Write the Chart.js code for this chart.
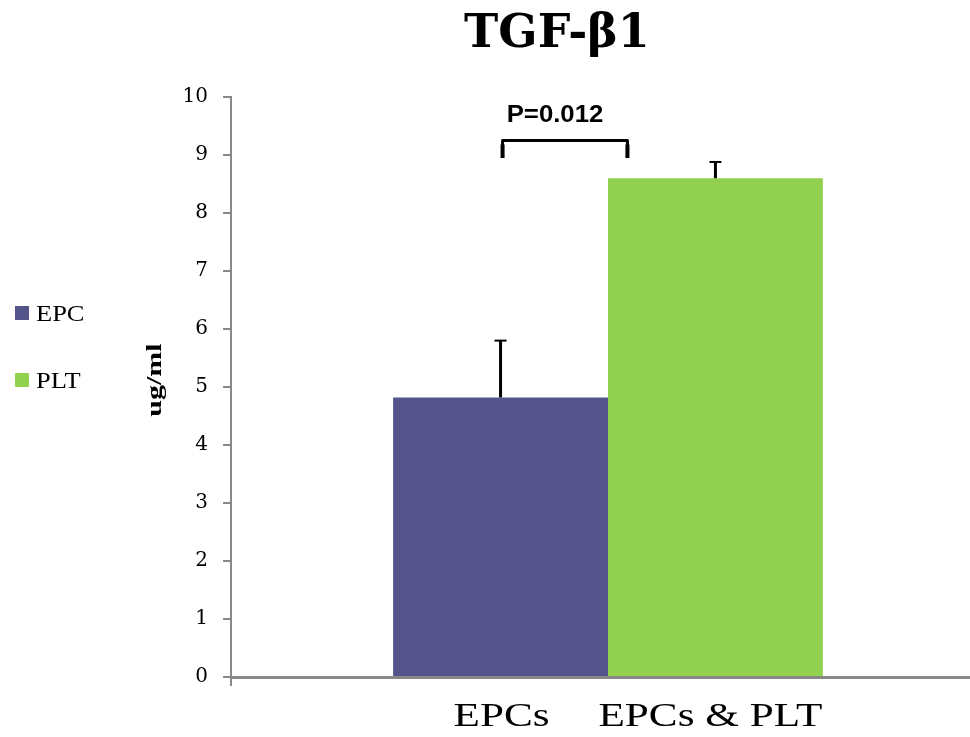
<!DOCTYPE html>
<html>
<head>
<meta charset="utf-8">
<script src="https://cdn.jsdelivr.net/npm/chart.js@4/dist/chart.umd.min.js"></script>
<style>
  html, body { margin: 0; padding: 0; background: #fff; overflow: hidden; width: 970px; height: 737px; }
  #wrap { width: 985px; height: 737px; }
</style>
</head>
<body>
<div id="wrap"><canvas id="c" width="985" height="737"></canvas></div>
<script>
// ---- data ----
const chartTitle = 'TGF-β1';
const yAxisTitle = 'ug/ml';
const categories = ['TGF-β1'];
const seriesNames = ['EPC', 'PLT'];
const barLabels = ['EPCs', 'EPCs & PLT'];
const epcValues = [4.82];
const pltValues = [8.6];
const epcErrors = [0.98];
const pltErrors = [0.28];
const seriesColors = ['#55548A', '#92D050'];
const yTicks = [0, 1, 2, 3, 4, 5, 6, 7, 8, 9, 10];
const pLabel = 'P=0.012';
const bracketTop = 9.25;
const bracketLeg = 8.95;

const errorsBySeries = [epcErrors, pltErrors];

function drawScaledText(ctx, text, x, y, sx, sy, rot) {
  ctx.save();
  ctx.translate(x, y);
  if (rot) ctx.rotate(rot);
  ctx.scale(sx, sy);
  ctx.fillText(text, 0, 0);
  ctx.restore();
}

const decor = {
  id: 'decor',
  afterDatasetsDraw(chart) {
    const ctx = chart.ctx;
    const y = chart.scales.y;
    const bars = chart.data.datasets.map((d, i) => chart.getDatasetMeta(i).data[0]);

    // error bars (upper only)
    ctx.save();
    ctx.strokeStyle = '#000';
    bars.forEach((b, i) => {
      const v = chart.data.datasets[i].data[0];
      const top = y.getPixelForValue(v + errorsBySeries[i][0]);
      ctx.lineWidth = 3;
      ctx.beginPath();
      ctx.moveTo(b.x, b.y);
      ctx.lineTo(b.x, top);
      ctx.stroke();
      ctx.lineWidth = 2;
      ctx.beginPath();
      ctx.moveTo(b.x - 6, top);
      ctx.lineTo(b.x + 6, top);
      ctx.stroke();
    });
    ctx.restore();

    // significance bracket
    const bl = bars[0].x + 2;
    const br = bars[1].x - 88;
    const bt = y.getPixelForValue(bracketTop);
    const bb = y.getPixelForValue(bracketLeg);
    ctx.save();
    ctx.strokeStyle = '#000';
    ctx.lineWidth = 3;
    ctx.lineJoin = 'round';
    ctx.beginPath();
    ctx.moveTo(bl, bb);
    ctx.lineTo(bl, bt);
    ctx.lineTo(br, bt);
    ctx.lineTo(br, bb);
    ctx.stroke();
    ctx.lineWidth = 4;
    ctx.beginPath();
    ctx.moveTo(bl, bb); ctx.lineTo(bl, bt + 4);
    ctx.moveTo(br, bb); ctx.lineTo(br, bt + 4);
    ctx.stroke();
    ctx.fillStyle = '#000';
    ctx.font = 'bold 23px "Liberation Sans", Arial, sans-serif';
    ctx.textAlign = 'center';
    ctx.textBaseline = 'alphabetic';
    drawScaledText(ctx, pLabel, (bl + br) / 2 - 10, 122, 1.12, 1);
    ctx.restore();
  },
  afterDraw(chart) {
    const ctx = chart.ctx;
    const bars = chart.data.datasets.map((d, i) => chart.getDatasetMeta(i).data[0]);
    ctx.save();
    ctx.fillStyle = '#000';

    // title
    ctx.font = 'bold 46px "DejaVu Serif", Georgia, serif';
    ctx.textAlign = 'center';
    ctx.textBaseline = 'alphabetic';
    ctx.fillText(chartTitle, 557, 47);

    // x labels under bars
    ctx.font = '34px "Liberation Serif", "Times New Roman", serif';
    bars.forEach((b, i) => {
      const dx = i === 0 ? 1 : -5;
      drawScaledText(ctx, barLabels[i], b.x + dx, 726, 1.27, 1);
    });

    // y axis title (rotated)
    ctx.font = 'bold 20px "Liberation Serif", "Times New Roman", serif';
    ctx.textBaseline = 'alphabetic';
    drawScaledText(ctx, yAxisTitle, 161, 380, 1.5, 1, -Math.PI / 2);

    // legend
    ctx.textAlign = 'left';
    ctx.font = '23px "Liberation Serif", "Times New Roman", serif';
    const legY = [313, 380];
    chart.data.datasets.forEach((d, i) => {
      ctx.fillStyle = d.backgroundColor;
      ctx.fillRect(15, legY[i] - 7, 14, 14);
      ctx.fillStyle = '#000';
      drawScaledText(ctx, d.label, 36, legY[i] + 8, 1.15, 1);
    });
    ctx.restore();
  }
};

new Chart(document.getElementById('c'), {
  type: 'bar',
  data: {
    labels: categories,
    datasets: [
      { label: seriesNames[0], data: epcValues, backgroundColor: seriesColors[0], borderWidth: 0 },
      { label: seriesNames[1], data: pltValues, backgroundColor: seriesColors[1], borderWidth: 0 }
    ]
  },
  options: {
    responsive: false,
    animation: false,
    devicePixelRatio: 1,
    layout: { padding: { top: 97, right: 0, left: 0, bottom: 0 } },
    datasets: { bar: { categoryPercentage: 0.57, barPercentage: 1.0 } },
    plugins: { legend: { display: false }, title: { display: false }, tooltip: { enabled: false } },
    scales: {
      x: {
        type: 'category',
        offset: true,
        ticks: { display: false },
        grid: { display: true, drawOnChartArea: false, drawTicks: true, tickLength: 9, color: '#888', lineWidth: 2, offset: true },
        border: { display: true, color: '#888', width: 3 },
        afterFit(scale) { scale.height = 60; }
      },
      y: {
        min: 0,
        max: 10,
        afterBuildTicks(scale) { scale.ticks = yTicks.map(v => ({ value: v })); },
        ticks: {
          color: '#000',
          padding: 15,
          font: { family: '"DejaVu Serif", Georgia, serif', size: 20 }
        },
        grid: { display: true, drawOnChartArea: false, drawTicks: true, tickLength: 8, color: '#888', lineWidth: 2 },
        border: { display: true, color: '#888', width: 2 },
        afterFit(scale) { scale.width = 231; }
      }
    }
  },
  plugins: [decor]
});
</script>
</body>
</html>
